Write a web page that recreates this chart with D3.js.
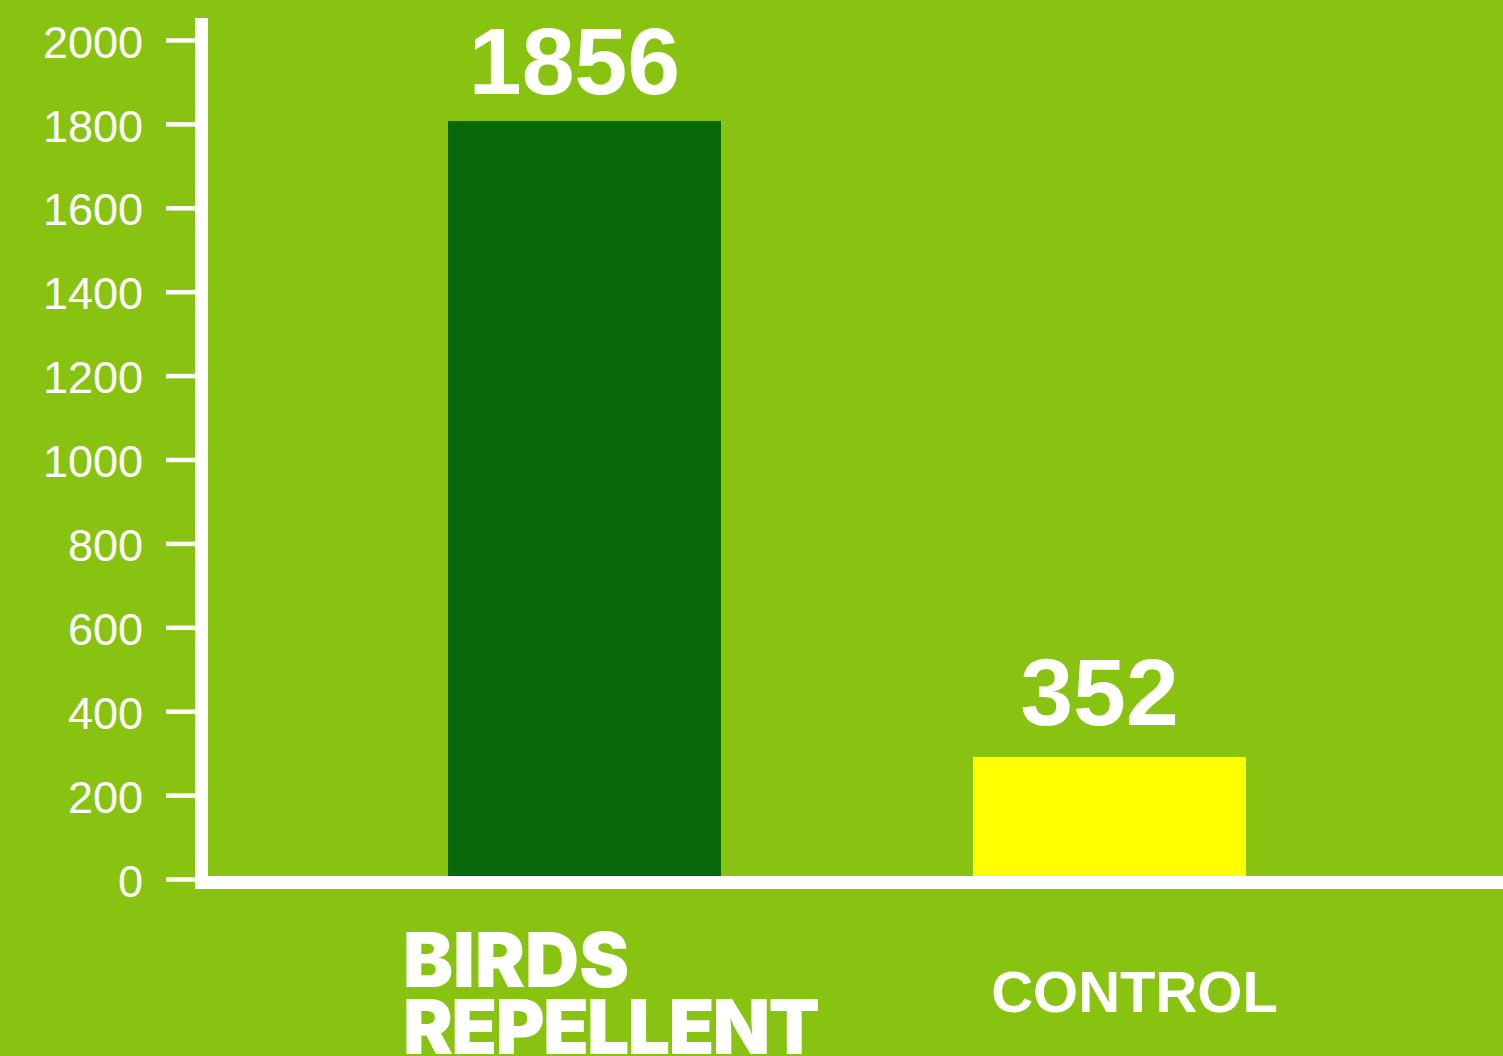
<!DOCTYPE html>
<html>
<head>
<meta charset="UTF-8">
<title>Birds repellent vs control</title>
<script src="https://d3js.org/d3.v7.min.js"></script>
<style>
  html, body { margin: 0; padding: 0; background: #88c312; overflow: hidden; }
  svg { display: block; }
</style>
</head>
<body>
<div id="chart"></div>
<script>
// data
var categories = ["BIRDS REPELLENT", "CONTROL"];
var barValues = [1807, 291];     // drawn bar heights
var shownValues = [1856, 352];   // numbers printed above bars
var yTicks = [0, 200, 400, 600, 800, 1000, 1200, 1400, 1600, 1800, 2000];

var width = 1503, height = 1056;
var bg = "#88c312";
var barColors = ["#08680a", "#ffff00"];

var svg = d3.select("#chart").append("svg")
  .attr("width", width)
  .attr("height", height);

svg.append("rect").attr("width", width).attr("height", height).attr("fill", bg);

var y = d3.scaleLinear().domain([0, 2000]).range([879, 40]);
var x = d3.scaleBand().domain(categories).range([196, 1498]).paddingInner(0.48).paddingOuter(0.48);

// bars (bottom goes under the axis line)
svg.selectAll("rect.bar")
  .data(categories)
  .enter().append("rect")
    .attr("class", "bar")
    .attr("x", function(d){ return x(d); })
    .attr("width", x.bandwidth())
    .attr("y", function(d, i){ return y(barValues[i]); })
    .attr("height", function(d, i){ return y(0) - y(barValues[i]); })
    .attr("fill", function(d, i){ return barColors[i]; });

// y axis ticks + labels
var yAxis = d3.axisLeft(y).tickValues(yTicks).tickFormat(d3.format("d"))
  .tickSize(29).tickPadding(23).tickSizeOuter(0);
var gy = svg.append("g").attr("transform", "translate(195,0)").call(yAxis);
gy.select(".domain").remove();
gy.selectAll(".tick line").attr("stroke", "#fff").attr("stroke-width", 4.5);
gy.selectAll(".tick text")
  .attr("fill", "#fff")
  .attr("dy", "0.38em")
  .style("font-family", "'Liberation Sans', Arial, sans-serif")
  .style("font-size", "45px");

// thick axis lines
var axisTop = y.range()[1] - 22;
svg.append("line")
  .attr("x1", 201.5).attr("x2", 201.5)
  .attr("y1", axisTop).attr("y2", y(0) + 10)
  .attr("stroke", "#fff").attr("stroke-width", 13);
svg.append("line")
  .attr("x1", 195).attr("x2", width)
  .attr("y1", y(0) + 3.5).attr("y2", y(0) + 3.5)
  .attr("stroke", "#fff").attr("stroke-width", 13);

// value labels
svg.selectAll("text.val")
  .data(categories)
  .enter().append("text")
    .attr("class", "val")
    .attr("x", function(d){ return x(d) + x.bandwidth() / 2 - 10; })
    .attr("y", function(d, i){ return y(shownValues[i]) - 6; })
    .attr("text-anchor", "middle")
    .attr("fill", "#fff")
    .style("font-family", "'Liberation Sans', Arial, sans-serif")
    .style("font-weight", "bold")
    .style("font-size", "95px")
    .text(function(d, i){ return shownValues[i]; });

// category labels: first one heavy and two lines, second plain bold
var lx = x(categories[0]) - 45;
var lab1 = svg.append("text")
  .attr("x", lx)
  .attr("y", 987)
  .attr("fill", "#fff")
  .style("font-family", "Inter, 'Liberation Sans', sans-serif")
  .style("font-weight", 900)
  .style("font-size", "75px");
lab1.append("tspan").attr("x", lx).text("BIRDS");
lab1.append("tspan").attr("x", lx).attr("dy", 67).attr("textLength", 417).text("REPELLENT");

svg.append("text")
  .attr("x", x(categories[1]) + x.bandwidth() / 2 + 25)
  .attr("y", 1012)
  .attr("text-anchor", "middle")
  .attr("fill", "#fff")
  .style("font-family", "'Liberation Sans', Arial, sans-serif")
  .style("font-weight", "bold")
  .style("font-size", "58px")
  .text(categories[1]);
</script>
</body>
</html>
